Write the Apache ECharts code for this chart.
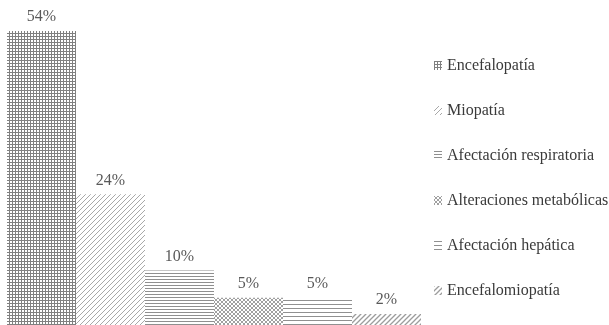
<!DOCTYPE html>
<html>
<head>
<meta charset="utf-8">
<script src="https://cdn.jsdelivr.net/npm/echarts@6/dist/echarts.min.js"></script>
<style>
  html, body { margin: 0; padding: 0; background: #fff; }
  #chart { width: 609px; height: 325px; }
</style>
</head>
<body>
<div id="chart"></div>
<script>
// Disorder categories and their share of cases (%)
const categories = [
  'Encefalopatía',
  'Miopatía',
  'Afectación respiratoria',
  'Alteraciones metabólicas',
  'Afectación hepática',
  'Encefalomiopatía'
];
const percentages = [54, 24, 10, 5, 5, 2];

// Monochrome fill patterns drawn onto small tiles
function tile(size, draw) {
  const c = document.createElement('canvas');
  c.width = size; c.height = size;
  const ctx = c.getContext('2d');
  ctx.fillStyle = '#ffffff';
  ctx.fillRect(0, 0, size, size);
  draw(ctx, size);
  return { image: c, repeat: 'repeat' };
}
function grid(size, col) {
  return tile(size, (ctx, s) => {
    ctx.fillStyle = col;
    ctx.fillRect(0, 0, s, 1);
    ctx.fillRect(0, 0, 1, s);
  });
}
function hlines(size, col) {
  return tile(size, (ctx, s) => {
    ctx.fillStyle = col;
    ctx.fillRect(0, 0, s, 1);
  });
}
function diag(size, col, w) {
  return tile(size, (ctx, s) => {
    ctx.strokeStyle = col;
    ctx.lineWidth = w;
    ctx.beginPath();
    ctx.moveTo(-1, s + 1); ctx.lineTo(s + 1, -1);
    ctx.moveTo(-1, 1); ctx.lineTo(1, -1);
    ctx.moveTo(s - 1, s + 1); ctx.lineTo(s + 1, s - 1);
    ctx.stroke();
  });
}
function cross(size, col) {
  return tile(size, (ctx, s) => {
    ctx.strokeStyle = col;
    ctx.lineWidth = 1;
    ctx.beginPath();
    ctx.moveTo(0, 0); ctx.lineTo(s, s);
    ctx.moveTo(0, s); ctx.lineTo(s, 0);
    ctx.stroke();
  });
}

const fills = [
  grid(3, '#808080'),
  diag(5, '#a8a8a8', 1),
  hlines(3, '#8f8f8f'),
  cross(4, '#a0a0a0'),
  hlines(4, '#909090'),
  diag(5, '#9c9c9c', 1.3)
];

const chart = echarts.init(document.getElementById('chart'), null, { renderer: 'canvas' });

const series = categories.map((name, i) => ({
  name: name,
  type: 'bar',
  data: [percentages[i]],
  barGap: '0%',
  barCategoryGap: '0%',
  itemStyle: { color: fills[i] },
  label: {
    show: true,
    position: 'top',
    distance: 6,
    formatter: '{c}%',
    color: '#595959',
    fontFamily: 'Liberation Serif',
    fontSize: 16
  }
}));

chart.setOption({
  animation: false,
  backgroundColor: '#ffffff',
  grid: { left: 7, right: 188, top: 31, bottom: 0 },
  xAxis: {
    type: 'category',
    data: [''],
    show: false
  },
  yAxis: {
    type: 'value',
    min: 0,
    max: 54,
    show: false
  },
  legend: {
    orient: 'vertical',
    left: 429,
    top: 52,
    icon: 'rect',
    itemWidth: 8,
    itemHeight: 9,
    itemGap: 28,
    data: categories,
    textStyle: {
      color: '#3a3a3a',
      fontFamily: 'Liberation Serif',
      fontSize: 16,
      lineHeight: 17
    }
  },
  series: series
});
</script>
</body>
</html>
